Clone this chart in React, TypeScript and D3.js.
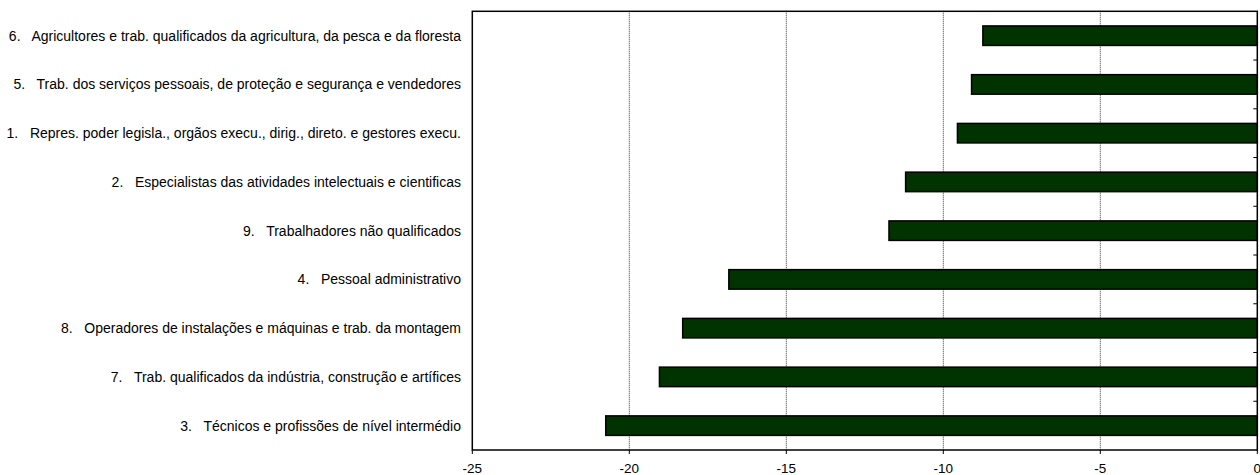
import React, { useEffect, useRef } from "react";
import * as d3 from "d3";

const categories: string[] = [
  "6.   Agricultores e trab. qualificados da agricultura, da pesca e da floresta",
  "5.   Trab. dos serviços pessoais, de proteção e segurança e vendedores",
  "1.   Repres. poder legisla., orgãos execu., dirig., direto. e gestores execu.",
  "2.   Especialistas das atividades intelectuais e cientificas",
  "9.   Trabalhadores não qualificados",
  "4.   Pessoal administrativo",
  "8.   Operadores de instalações e máquinas e trab. da montagem",
  "7.   Trab. qualificados da indústria, construção e artífices",
  "3.   Técnicos e profissões de nível intermédio",
];

const values: number[] = [-8.74, -9.1, -9.55, -11.2, -11.73, -16.83, -18.3, -19.04, -20.75];

const xTicks: number[] = [-25, -20, -15, -10, -5, 0];
const gridTicks: number[] = [-20, -15, -10, -5];

const W = 1260;
const H = 475;
const left = 472.3;
const right = 1257.3;
const top = 11.3;
const bottom = 450;

export default function App() {
  const ref = useRef<SVGSVGElement>(null);

  useEffect(() => {
    const svg = d3.select(ref.current);
    svg.selectAll("*").remove();

    const x = d3.scaleLinear().domain([-25, 0]).range([left, right]);
    const y = d3
      .scaleBand<string>()
      .domain(categories)
      .range([top, bottom])
      .paddingInner(0)
      .paddingOuter(0);

    const barH = 19.5;

    // gridlines
    svg
      .append("g")
      .selectAll("line")
      .data(gridTicks)
      .join("line")
      .attr("x1", (d) => x(d))
      .attr("x2", (d) => x(d))
      .attr("y1", top)
      .attr("y2", bottom)
      .attr("stroke", "#333")
      .attr("stroke-width", 1)
      .attr("stroke-dasharray", "1,1");

    // bars
    svg
      .append("g")
      .selectAll("rect")
      .data(values)
      .join("rect")
      .attr("x", (d) => x(d))
      .attr("width", (d) => x(0) - x(d))
      .attr("y", (_d, i) => (y(categories[i]) as number) + y.bandwidth() / 2 - barH / 2)
      .attr("height", barH)
      .attr("fill", "#003300")
      .attr("stroke", "#000")
      .attr("stroke-width", 1.5);

    // plot border
    svg
      .append("rect")
      .attr("x", left)
      .attr("y", top)
      .attr("width", right - left)
      .attr("height", bottom - top)
      .attr("fill", "none")
      .attr("stroke", "#000")
      .attr("stroke-width", 1.5);

    // right-side category boundary ticks
    const bounds = categories.slice(1).map((c) => y(c) as number);
    svg
      .append("g")
      .selectAll("line")
      .data(bounds)
      .join("line")
      .attr("x1", right - 4)
      .attr("x2", right)
      .attr("y1", (d) => d)
      .attr("y2", (d) => d)
      .attr("stroke", "#000")
      .attr("stroke-width", 1);

    // x axis ticks
    svg
      .append("g")
      .selectAll("line")
      .data(xTicks)
      .join("line")
      .attr("x1", (d) => x(d))
      .attr("x2", (d) => x(d))
      .attr("y1", bottom)
      .attr("y2", bottom + 4)
      .attr("stroke", "#000")
      .attr("stroke-width", 1);

    svg
      .append("g")
      .selectAll("text")
      .data(xTicks)
      .join("text")
      .attr("x", (d) => x(d))
      .attr("y", 473)
      .attr("text-anchor", "middle")
      .attr("font-family", "Liberation Sans, Arial, sans-serif")
      .attr("font-size", 13.5)
      .attr("fill", "#000")
      .text((d) => String(d));

    // category labels
    svg
      .append("g")
      .selectAll("text")
      .data(categories)
      .join("text")
      .attr("x", 461)
      .attr("y", (d) => (y(d) as number) + y.bandwidth() / 2)
      .attr("dy", "0.35em")
      .attr("text-anchor", "end")
      .attr("font-family", "Liberation Sans, Arial, sans-serif")
      .attr("font-size", 14)
      .attr("fill", "#000")
      .style("white-space", "pre")
      .text((d) => d);
  }, []);

  return (
    <svg
      ref={ref}
      width={W}
      height={H}
      style={{ position: "absolute", left: 0, top: 0, background: "#fff" }}
    />
  );
}
